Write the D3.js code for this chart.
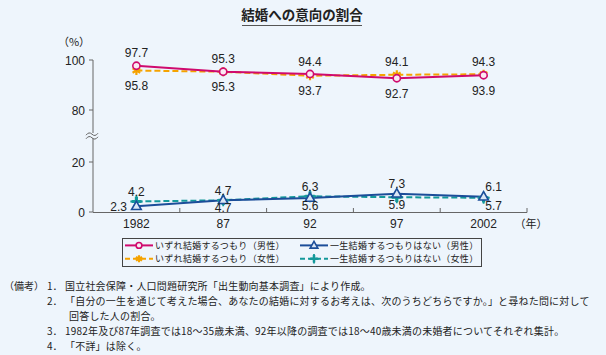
<!DOCTYPE html>
<html><head><meta charset="utf-8">
<script src="https://cdn.jsdelivr.net/npm/d3@7/dist/d3.min.js"></script>
<style>
html,body{margin:0;padding:0;background:#eef5fc;}
svg{display:block;}
text{font-family:"Liberation Sans","Noto Sans CJK JP",sans-serif;}
.jp{font-family:"Noto Sans CJK JP",sans-serif;}
</style></head><body>
<svg id="c" width="606" height="355"></svg>
<script>
const years = ["1982","87","92","97","2002"];
const yTicks = [0,20,80,100];
const menMarry   = [97.7,95.3,94.4,92.7,93.9];
const womenMarry = [95.8,95.3,93.7,94.1,94.3];
const menNever   = [2.3,4.7,5.6,7.3,6.1];
const womenNever = [4.2,4.7,6.3,5.9,5.7];
const legendLabels = ["いずれ結婚するつもり（男性）","いずれ結婚するつもり（女性）","一生結婚するつもりはない（男性）","一生結婚するつもりはない（女性）"];
const title = "結婚への意向の割合";
const notes = [
  ["（備考）","1．","国立社会保障・人口問題研究所「出生動向基本調査」により作成。"],
  ["","2．","「自分の一生を通じて考えた場合、あなたの結婚に対するお考えは、次のうちどちらですか。」と尋ねた問に対して"],
  ["","","回答した人の割合。"],
  ["","3．","1982年及び87年調査では18～35歳未満、92年以降の調査では18～40歳未満の未婚者についてそれぞれ集計。"],
  ["","4．","「不詳」は除く。"]
];

const RED="#cf0a6e", ORANGE="#f5a300", BLUE="#1b4d99", TEAL="#14999a", BG="#eef5fc";
const svg = d3.select("#c");

// title
svg.append("text").attr("class","jp").attr("x",302).attr("y",20).attr("text-anchor","middle")
  .attr("font-size",13.5).attr("font-weight","bold").attr("fill","#222").text(title);
svg.append("line").attr("x1",242).attr("x2",362).attr("y1",25.5).attr("y2",25.5).attr("stroke","#555").attr("stroke-width",1);

const x = d3.scaleBand().domain(years).range([93,527]).padding(0);
const y = d3.scaleLinear().domain([0,20,80,100]).range([212,162,110,60]);
const cx = d => x(d)+x.bandwidth()/2;

// y axis
const g = svg.append("g");
g.append("line").attr("x1",93).attr("x2",93).attr("y1",y(100)).attr("y2",y(0)).attr("stroke","#666");
yTicks.forEach(t=>{
  g.append("line").attr("x1",89).attr("x2",93).attr("y1",y(t)).attr("y2",y(t)).attr("stroke","#666");
  g.append("text").attr("x",85).attr("y",y(t)+4.5).attr("text-anchor","end").attr("font-size",12).attr("fill","#222").text(t);
});
g.append("text").attr("class","jp").attr("x",74).attr("y",46).attr("text-anchor","middle").attr("font-size",11).attr("fill","#222").text("（%）");
// break symbol
const by = (y(20)+y(80))/2;
g.append("rect").attr("x",88).attr("y",by-3).attr("width",10).attr("height",5).attr("fill",BG);
[-1.8,1.8].forEach(o=>{
  g.append("path").attr("d",`M86,${by+o+1} q3,-4 6,-1 t6,-1`).attr("fill","none").attr("stroke","#666").attr("stroke-width",1);
});

// x axis
g.append("line").attr("x1",93).attr("x2",527).attr("y1",212.5).attr("y2",212.5).attr("stroke","#666");
years.forEach((yr,i)=>{
  const bx = x(yr)+x.bandwidth();
  g.append("line").attr("x1",bx).attr("x2",bx).attr("y1",208).attr("y2",212.5).attr("stroke","#666");
  g.append("text").attr("x",cx(yr)).attr("y",228).attr("text-anchor","middle").attr("font-size",12).attr("fill","#222").text(yr);
});
g.append("text").attr("class","jp").attr("x",531).attr("y",228).attr("text-anchor","middle").attr("font-size",11).attr("fill","#222").text("（年）");

// markers
function marker(sel, type, color, sc){
  sc = sc||1;
  if(type==="circle"){
    sel.append("circle").attr("r",3.6*sc).attr("fill","#fbe9f2").attr("stroke",color).attr("stroke-width",1.6);
  } else if(type==="ast"){
    sel.append("path").attr("d",d3.symbol(d3.symbolAsterisk,55*sc*sc)()).attr("fill","none").attr("stroke",color).attr("stroke-width",2.2);
  } else if(type==="tri"){
    sel.append("path").attr("d",d3.symbol(d3.symbolTriangle,40*sc*sc)()).attr("transform","translate(0,0.5)").attr("fill","#dbe6f5").attr("stroke",color).attr("stroke-width",1.6);
  } else {
    sel.append("path").attr("d",d3.symbol(d3.symbolCross,50*sc*sc)()).attr("fill",color);
    sel.append("path").attr("d",d3.symbol(d3.symbolPlus,50*sc*sc)()).attr("fill","none").attr("stroke",color).attr("stroke-width",1.8);
  }
}
const series = [
  {v:menMarry,color:RED,dash:null,m:"circle"},
  {v:womenMarry,color:ORANGE,dash:"6,3",m:"ast"},
  {v:menNever,color:BLUE,dash:null,m:"tri"},
  {v:womenNever,color:TEAL,dash:"6,3",m:"plus"}
];
const line = d3.line().x((d,i)=>cx(years[i])).y(d=>y(d));
[1,0,3,2].forEach(k=>{
  const s = series[k];
  svg.append("path").attr("d",line(s.v)).attr("fill","none").attr("stroke",s.color).attr("stroke-width",2)
    .attr("stroke-dasharray",s.dash);
});
[1,0,3,2].forEach(k=>{
  const s = series[k];
  s.v.forEach((d,i)=>{
    const mg = svg.append("g").attr("transform",`translate(${cx(years[i])},${y(d)})`);
    marker(mg,s.m,s.color);
  });
});

// value labels
function labels(a,b,topOff,botOff,group){
  years.forEach((yr,i)=>{
    const hi = Math.max(a[i],b[i]), lo = Math.min(a[i],b[i]);
    let xh = cx(yr), xl = cx(yr);
    if(group==="low" && i===years.length-1){ xh += 10; xl += 10; }
    svg.append("text").attr("x",xh).attr("y",y(hi)+topOff+4.5).attr("text-anchor","middle").attr("font-size",12).attr("fill","#222").text(hi.toFixed(1));
    if(group==="low" && i===0){
      svg.append("text").attr("x",127).attr("y",y(lo)+4.5).attr("text-anchor","end").attr("font-size",12).attr("fill","#222").text(lo.toFixed(1));
    } else {
      svg.append("text").attr("x",xl).attr("y",y(lo)+botOff+4.5).attr("text-anchor","middle").attr("font-size",12).attr("fill","#222").text(lo.toFixed(1));
    }
  });
}
labels(menMarry,womenMarry,-13,15,"high");
labels(menNever,womenNever,-10,7.5,"low");

// legend
svg.append("rect").attr("x",122.5).attr("y",238.5).attr("width",359).attr("height",28).attr("fill",BG).attr("stroke","#444").attr("stroke-width",1);
const lpos = [[125,245.4],[125,258.8],[300,245.4],[300,258.8]];
series.forEach((s,k)=>{
  const [lx,ly] = lpos[k];
  svg.append("line").attr("x1",lx).attr("x2",lx+28).attr("y1",ly).attr("y2",ly).attr("stroke",s.color).attr("stroke-width",2).attr("stroke-dasharray",s.dash?"5,3":null);
  const mg = svg.append("g").attr("transform",`translate(${lx+14},${ly})`);
  marker(mg,s.m,s.color,0.8);
  svg.append("text").attr("class","jp").attr("x",lx+30).attr("y",ly+3.2).attr("font-size",9).attr("letter-spacing",0.3).attr("fill","#222").text(legendLabels[k]);
});

// notes
notes.forEach((n,i)=>{
  const ly = 290 + i*15;
  if(n[0]) svg.append("text").attr("class","jp").attr("x",4).attr("y",ly).attr("font-size",10).attr("fill","#222").text(n[0]);
  if(n[1]) svg.append("text").attr("class","jp").attr("x",47).attr("y",ly).attr("font-size",10).attr("fill","#222").text(n[1]);
  svg.append("text").attr("class","jp").attr("x",n[1]?65:69).attr("y",ly).attr("font-size",10).attr("letter-spacing",0.2).attr("fill","#222").text(n[2]);
});
</script>
</body></html>
